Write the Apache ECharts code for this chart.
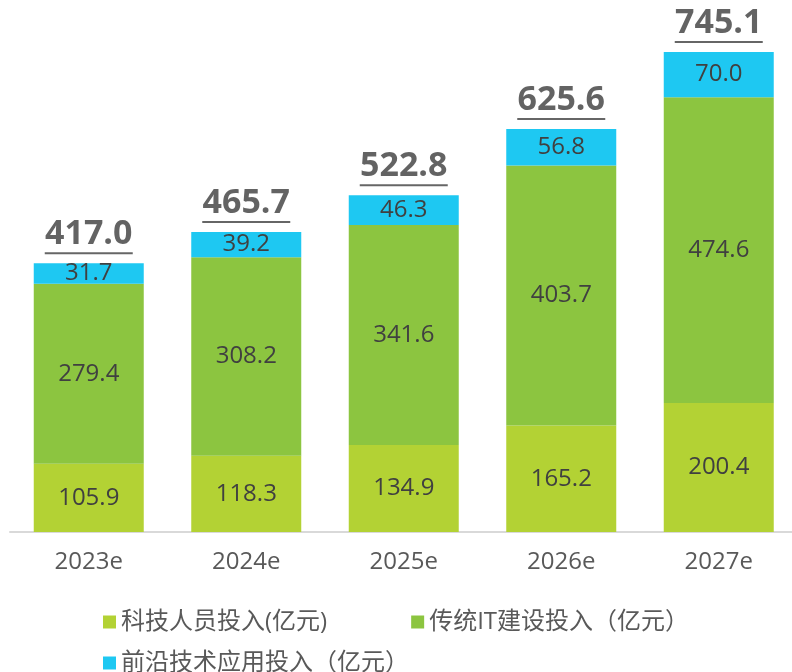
<!DOCTYPE html>
<html>
<head>
<meta charset="utf-8">
<script src="https://cdn.jsdelivr.net/npm/echarts@6/dist/echarts.min.js"></script>
<style>
  html, body { margin: 0; padding: 0; background: #fff; }
  #chart { width: 792px; height: 672px; }
</style>
</head>
<body>
<div id="chart"></div>
<script>
  const years = ['2023e', '2024e', '2025e', '2026e', '2027e']
  const staffData = [105.9, 118.3, 134.9, 165.2, 200.4]
  const itData = [279.4, 308.2, 341.6, 403.7, 474.6]
  const frontierData = [31.7, 39.2, 46.3, 56.8, 70.0]
  const totalData = [417.0, 465.7, 522.8, 625.6, 745.1]

  const names = ['科技人员投入(亿元)', '传统IT建设投入（亿元）', '前沿技术应用投入（亿元）']
  const colors = ['#b3d234', '#8cc540', '#1ec8f2']
  const font = '"Open Sans", "Noto Sans CJK SC", sans-serif'

  const chart = echarts.init(document.getElementById('chart'))

  const innerLabel = {
    show: true,
    position: 'inside',
    fontSize: 24,
    fontFamily: font,
    color: '#404040',
    formatter: p => p.value.toFixed(1)
  }

  const legendBase = {
    left: 98,
    orient: 'horizontal',
    icon: 'rect',
    itemWidth: 13,
    itemHeight: 13,
    itemGap: 84,
    selectedMode: false,
    textStyle: { fontSize: 24, color: '#595959', fontFamily: font }
  }

  chart.setOption({
    animation: false,
    grid: {
      left: 10,
      right: -5.5,
      top: 16.6,
      bottom: 140,
      containLabel: false,
      outerBoundsMode: 'none'
    },
    legend: [
      Object.assign({}, legendBase, { top: 605, data: [names[0], names[1]] }),
      Object.assign({}, legendBase, { top: 646, data: [names[2]] })
    ],
    xAxis: {
      type: 'category',
      data: years,
      axisTick: { show: false },
      axisLine: { lineStyle: { color: '#d9d9d9', width: 2 } },
      axisLabel: { fontSize: 24, color: '#595959', fontFamily: font, margin: 18 }
    },
    yAxis: {
      type: 'value',
      min: 0,
      max: 800,
      show: false,
      splitLine: { show: false }
    },
    series: [
      {
        name: names[0],
        type: 'bar',
        stack: 'total',
        barWidth: 110,
        data: staffData,
        itemStyle: { color: colors[0] },
        label: innerLabel
      },
      {
        name: names[1],
        type: 'bar',
        stack: 'total',
        barWidth: 110,
        data: itData,
        itemStyle: { color: colors[1] },
        label: innerLabel
      },
      {
        name: names[2],
        type: 'bar',
        stack: 'total',
        barWidth: 110,
        data: frontierData,
        itemStyle: { color: colors[2] },
        label: innerLabel
      },
      {
        type: 'scatter',
        data: totalData,
        symbolSize: 0,
        silent: true,
        label: {
          show: true,
          position: 'top',
          distance: 9,
          formatter: p => '{v|' + p.value.toFixed(1) + '}\n{u| }',
          rich: {
            v: { fontSize: 34, fontWeight: 'bold', color: '#3c3c3c', fontFamily: font, lineHeight: 36 },
            u: { width: 88, height: 2, lineHeight: 2, fontSize: 1, backgroundColor: '#404040' }
          }
        }
      }
    ]
  })
</script>
</body>
</html>
